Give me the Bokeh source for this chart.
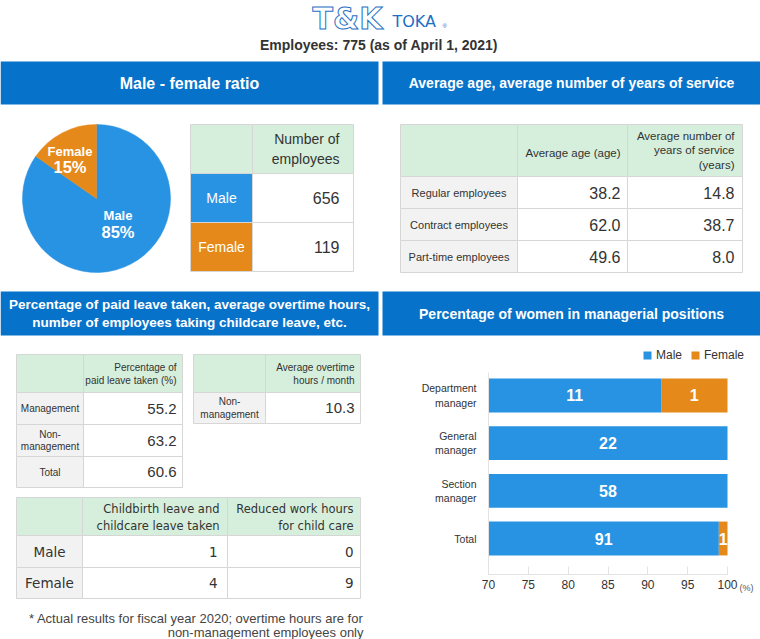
import math
from bokeh.plotting import figure
from bokeh.models import Range1d, FixedTicker, Legend, LegendItem, Label, LinearAxis, Text
from bokeh.layouts import column, row
from bokeh.embed import file_html
from bokeh.resources import INLINE
from bokeh.core.properties import value

# ---------------- data ----------------
total_employees = 775
as_of = "April 1, 2021"

gender_labels = ["Male", "Female"]
gender_counts = [656, 119]

age_groups = ["Regular employees", "Contract employees", "Part-time employees"]
average_age = [38.2, 62.0, 49.6]
average_service = [14.8, 38.7, 8.0]

leave_groups = ["Management", "Non-\nmanagement", "Total"]
paid_leave_pct = [55.2, 63.2, 60.6]

overtime_groups = ["Non-\nmanagement"]
overtime_hours = [10.3]

childcare_groups = ["Male", "Female"]
childcare_leave = [1, 4]
reduced_hours = [0, 9]

manager_levels = ["Department\nmanager", "General\nmanager", "Section\nmanager", "Total"]
managers_male = [11, 22, 58, 91]
managers_female = [1, 0, 0, 1]
pct_ticks = [70, 75, 80, 85, 90, 95, 100]

# ---------------- style ----------------
HEADER_BLUE = "#0672c9"
LOGO_BLUE = "#1e6fc6"
BLUE = "#2993e3"
ORANGE = "#e4891a"
GREEN = "#d6efdc"
GREY = "#f2f2f2"
BORDER = "#d6d6d6"
DARK = "#333333"
SANS = "Liberation Sans"
VERD = "DejaVu Sans"
HAS_OUTLINE = "text_outline_color" in Text.properties()


def canvas(w, h, x0, x1, y0, y1):
    p = figure(width=w, height=h, x_range=Range1d(x0, x1), y_range=Range1d(y1, y0),
               output_backend="svg", toolbar_location=None,
               x_axis_location=None, y_axis_location=None, min_border=0)
    p.grid.visible = False
    p.outline_line_color = None
    return p


def put(p, x, y, s, size, color=DARK, align="center", bold=False, font=SANS, lh=1.2,
        baseline="middle", **kw):
    p.text(x=[x], y=[y], text=[s], text_font=value(font), text_font_size=f"{size}px",
           text_color=color, text_align=align, text_baseline=baseline,
           text_font_style="bold" if bold else "normal", text_line_height=lh, **kw)


def cell(p, l, r, t, b, fill):
    p.quad(left=[l], right=[r], top=[t], bottom=[b], fill_color=fill,
           line_color=BORDER, line_width=1)


def header_bar(p, l, r, t, b, title, size, lh=1.2):
    p.quad(left=[l], right=[r], top=[t], bottom=[b], fill_color=HEADER_BLUE, line_color=None)
    put(p, (l + r) / 2, (t + b) / 2, title, size, color="white", bold=True, lh=lh)


# ---------------- top part (page y 0..340) ----------------
top = canvas(760, 340, 0, 760, 0, 340)

if HAS_OUTLINE:
    put(top, 312, 18, "T&K", 30, color="white", align="left", bold=True,
        font=VERD, text_outline_color=LOGO_BLUE)
else:
    put(top, 312, 18, "T&K", 30, color=LOGO_BLUE, align="left", font=VERD)
put(top, 392, 21, "TOKA", 16, color=LOGO_BLUE, align="left", font=VERD)
put(top, 442, 25, "\u00ae", 6, color=LOGO_BLUE, align="left")
put(top, 378.5, 44, f"Employees: {total_employees} (as of {as_of})", 14, bold=True)

header_bar(top, 0, 378, 61, 104, "Male - female ratio", 16)
header_bar(top, 382, 760, 61, 104, "Average age, average number of years of service", 14)
header_bar(top, 0, 378, 291, 335,
           "Percentage of paid leave taken, average overtime hours,\nnumber of employees taking childcare leave, etc.",
           13.5, lh=1.25)
header_bar(top, 382, 760, 291, 335, "Percentage of women in managerial positions", 14)

# pie
pie_total = sum(gender_counts)
pie_colors = [BLUE, ORANGE]
starts, ends = [], []
a = math.pi / 2
for c in reversed(gender_counts):
    sweep = 2 * math.pi * c / pie_total
    starts.append(a)
    ends.append(a + sweep)
    a += sweep
starts = list(reversed(starts))
ends = list(reversed(ends))
top.wedge(x=[96] * 2, y=[198] * 2, radius=74, start_angle=starts, end_angle=ends,
          direction="anticlock", fill_color=pie_colors, line_color=pie_colors, line_width=0.5)
pie_label_xy = [(117.5, 215), (69.5, 150.5)]
for (lx, ly), lab, c in zip(pie_label_xy, gender_labels, gender_counts):
    put(top, lx, ly, lab, 13, color="white", bold=True)
    put(top, lx, ly + 16, f"{round(100 * c / pie_total)}%", 16.5, color="white", bold=True)

# male / female table
mf_x = [190, 252, 353]
mf_y = [124, 173, 222, 271]
cell(top, mf_x[0], mf_x[1], mf_y[0], mf_y[1], GREEN)
cell(top, mf_x[1], mf_x[2], mf_y[0], mf_y[1], GREEN)
put(top, mf_x[2] - 14, (mf_y[0] + mf_y[1]) / 2, "Number of\nemployees", 14, align="right", lh=1.27)
for i, (lab, c) in enumerate(zip(gender_labels, gender_counts)):
    t, b = mf_y[i + 1], mf_y[i + 2]
    cell(top, mf_x[0], mf_x[1], t, b, pie_colors[i])
    cell(top, mf_x[1], mf_x[2], t, b, "white")
    put(top, (mf_x[0] + mf_x[1]) / 2, (t + b) / 2, lab, 14, color="white")
    put(top, mf_x[2] - 14, (t + b) / 2, str(c), 16, align="right")

# age table
ag_x = [400, 517, 627, 742]
ag_y = [124, 176, 208, 240, 272]
for j in range(3):
    cell(top, ag_x[j], ag_x[j + 1], ag_y[0], ag_y[1], GREEN)
put(top, ag_x[2] - 7, 152, "Average age (age)", 11.5, align="right")
put(top, ag_x[3] - 8, 150, "Average number of\nyears of service\n(years)", 11.5, align="right", lh=1.2)
for i, (g, age, srv) in enumerate(zip(age_groups, average_age, average_service)):
    t, b = ag_y[i + 1], ag_y[i + 2]
    cell(top, ag_x[0], ag_x[1], t, b, GREY)
    cell(top, ag_x[1], ag_x[2], t, b, "white")
    cell(top, ag_x[2], ag_x[3], t, b, "white")
    put(top, (ag_x[0] + ag_x[1]) / 2, (t + b) / 2, g, 11)
    put(top, ag_x[2] - 7, (t + b) / 2, f"{age:.1f}", 16, align="right")
    put(top, ag_x[3] - 8, (t + b) / 2, f"{srv:.1f}", 16, align="right")

# ---------------- bottom-left part (page y 340..639) ----------------
bl = canvas(380, 299, 0, 380, 340, 639)

# paid leave table
pl_x = [16, 83, 182]
pl_y = [354, 392, 424, 456, 487]
cell(bl, pl_x[0], pl_x[1], pl_y[0], pl_y[1], GREEN)
cell(bl, pl_x[1], pl_x[2], pl_y[0], pl_y[1], GREEN)
put(bl, pl_x[2] - 6, 373.5, "Percentage of\npaid leave taken (%)", 10, align="right", lh=1.15)
for i, (g, v) in enumerate(zip(leave_groups, paid_leave_pct)):
    t, b = pl_y[i + 1], pl_y[i + 2]
    cell(bl, pl_x[0], pl_x[1], t, b, GREY)
    cell(bl, pl_x[1], pl_x[2], t, b, "white")
    put(bl, (pl_x[0] + pl_x[1]) / 2, (t + b) / 2, g, 10, lh=1.15)
    put(bl, pl_x[2] - 6, (t + b) / 2, f"{v:.1f}", 15, align="right")

# overtime table
ot_x = [193, 265, 360]
ot_y = [354, 392, 423]
cell(bl, ot_x[0], ot_x[1], ot_y[0], ot_y[1], GREEN)
cell(bl, ot_x[1], ot_x[2], ot_y[0], ot_y[1], GREEN)
put(bl, ot_x[2] - 6, 373.5, "Average overtime\nhours / month", 10, align="right", lh=1.15)
for i, (g, v) in enumerate(zip(overtime_groups, overtime_hours)):
    t, b = ot_y[i + 1], ot_y[i + 2]
    cell(bl, ot_x[0], ot_x[1], t, b, GREY)
    cell(bl, ot_x[1], ot_x[2], t, b, "white")
    put(bl, (ot_x[0] + ot_x[1]) / 2, (t + b) / 2, g, 10, lh=1.15)
    put(bl, ot_x[2] - 6, (t + b) / 2, f"{v:.1f}", 15, align="right")

# childcare table
cc_x = [16, 82, 227, 360]
cc_y = [497, 535, 567, 598]
for j in range(3):
    cell(bl, cc_x[j], cc_x[j + 1], cc_y[0], cc_y[1], GREEN)
put(bl, cc_x[2] - 8, 517, "Childbirth leave and\nchildcare leave taken", 11.5, align="right", font=VERD, lh=1.16)
put(bl, cc_x[3] - 7, 517, "Reduced work hours\nfor child care", 11.5, align="right", font=VERD, lh=1.16)
for i, (g, v1, v2) in enumerate(zip(childcare_groups, childcare_leave, reduced_hours)):
    t, b = cc_y[i + 1], cc_y[i + 2]
    cell(bl, cc_x[0], cc_x[1], t, b, GREY)
    cell(bl, cc_x[1], cc_x[2], t, b, "white")
    cell(bl, cc_x[2], cc_x[3], t, b, "white")
    put(bl, (cc_x[0] + cc_x[1]) / 2, (t + b) / 2, g, 13.5, font=VERD)
    put(bl, cc_x[2] - 10, (t + b) / 2, str(v1), 13.5, align="right", font=VERD)
    put(bl, cc_x[3] - 7, (t + b) / 2, str(v2), 13.5, align="right", font=VERD)

put(bl, 363, 618, "* Actual results for fiscal year 2020; overtime hours are for", 13, color="#444444", align="right")
put(bl, 363, 631.5, "non-management employees only", 13, color="#444444", align="right")

# ---------------- bar chart (page x 380..760, y 340..639) ----------------
n = len(manager_levels)
ypos = list(range(n - 1, -1, -1))
male_pct = [100 * m / (m + f) for m, f in zip(managers_male, managers_female)]
x_lo, x_hi = pct_ticks[0], pct_ticks[-1]

PX_PER_PCT = 239 / 30.0       # 70 -> x 488, 100 -> x 727
PX_PER_ROW = 47.67            # row spacing
y_of = lambda py: (538 - py) / PX_PER_ROW     # row value of a page y
x_start = x_lo - (488 - 380) / PX_PER_PCT
x_end = x_hi + (760 - 727) / PX_PER_PCT
axis_y = y_of(574)
axis_top = y_of(372)

bar = figure(width=380, height=299, x_range=Range1d(x_start, x_end),
             y_range=Range1d(y_of(639), y_of(340)),
             output_backend="svg", toolbar_location=None,
             x_axis_location=None, y_axis_location=None, min_border=0)
bar.grid.visible = False
bar.outline_line_color = None

male_r = bar.hbar(y=ypos, left=[x_lo] * n, right=male_pct, height=0.71,
                  fill_color=BLUE, line_color=None)
fem_r = bar.hbar(y=ypos, left=male_pct, right=[x_hi] * n, height=0.71,
                 fill_color=ORANGE, line_color=None)

bar.text(x=[(x_lo + p) / 2 for p in male_pct], y=ypos, text=[str(m) for m in managers_male],
         text_font=value(SANS), text_font_size="16px", text_font_style="bold",
         text_color="white", text_align="center", text_baseline="middle")
fx = [(p + x_hi) / 2 for p, f in zip(male_pct, managers_female) if f > 0]
fy = [y for y, f in zip(ypos, managers_female) if f > 0]
ft = [str(f) for f in managers_female if f > 0]
bar.text(x=fx, y=fy, text=ft, text_font=value(SANS), text_font_size="16px",
         text_font_style="bold", text_color="white", text_align="center", text_baseline="middle")

xaxis = LinearAxis(fixed_location=axis_y, bounds=(x_lo, x_hi),
                   ticker=FixedTicker(ticks=pct_ticks))
xaxis.axis_line_color = "#e3e3e3"
xaxis.major_tick_line_color = "#e3e3e3"
xaxis.major_tick_in = 8
xaxis.major_tick_out = 0
xaxis.minor_tick_line_color = None
xaxis.major_label_text_font = SANS
xaxis.major_label_text_font_size = "12px"
xaxis.major_label_text_color = DARK
xaxis.major_label_standoff = 5
bar.add_layout(xaxis, "below")

yaxis = LinearAxis(fixed_location=x_lo, bounds=(axis_y, axis_top),
                   ticker=FixedTicker(ticks=ypos))
yaxis.major_label_overrides = {y: lab for y, lab in zip(ypos, manager_levels)}
yaxis.axis_line_color = "#e3e3e3"
yaxis.major_tick_line_color = None
yaxis.minor_tick_line_color = None
yaxis.major_label_text_font = SANS
yaxis.major_label_text_font_size = "10.5px"
yaxis.major_label_text_color = DARK
yaxis.major_label_standoff = 6
bar.add_layout(yaxis, "left")

legend = Legend(items=[LegendItem(label=gender_labels[0], renderers=[male_r]),
                       LegendItem(label=gender_labels[1], renderers=[fem_r])],
                orientation="horizontal", location=(262, 277),
                glyph_width=10, glyph_height=10, label_height=10, label_standoff=4,
                spacing=8, padding=0, margin=0, border_line_color=None,
                background_fill_alpha=0, label_text_font=SANS,
                label_text_font_size="12px", label_text_color=DARK)
bar.add_layout(legend)

bar.add_layout(Label(x=x_hi, y=y_of(587), x_offset=12, text="(%)", text_font=SANS,
                     text_font_size="9px", text_color="#555555", text_baseline="middle"))

layout = column(top, row(bl, bar))
open("out.html", "w").write(file_html(layout, INLINE))
